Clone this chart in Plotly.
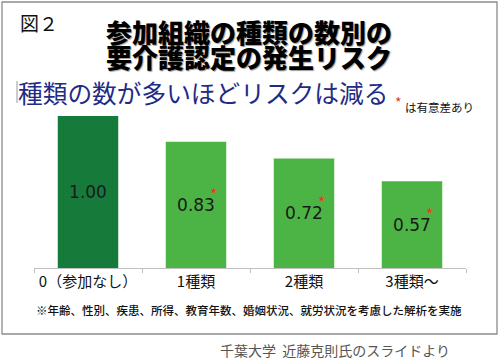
import plotly.graph_objects as go

categories = ["0（参加なし）", "1種類", "2種類", "3種類～"]
values = [1.00, 0.83, 0.72, 0.57]
value_labels = ["1.00", "0.83", "0.72", "0.57"]
significant = [False, True, True, True]

fig_label = "図２"
title_lines = ["参加組織の種類の数別の", "要介護認定の発生リスク"]
subtitle = "種類の数が多いほどリスクは減る"
sig_note = "は有意差あり"
footnote = "※年齢、性別、疾患、所得、教育年数、婚姻状況、就労状況を考慮した解析を実施"
credit = "千葉大学  近藤克則氏のスライドより"

W, H = 500, 361
L, R, T, B = 34, 466, 116, 268
JP = "Noto Sans CJK JP"


def px(x, y):
    return (x - L) / (R - L), (B - y) / (B - T)


colors = ["#157a3a"] + ["#4cb444"] * (len(values) - 1)

fig = go.Figure()
fig.add_trace(go.Bar(
    x=categories, y=values, width=0.56,
    marker=dict(color=colors, line=dict(width=0)),
    text=value_labels, textposition="inside", insidetextanchor="middle",
    textangle=0, constraintext="none",
    textfont=dict(family="DejaVu Sans", size=17, color="#1a1a1a"),
    hoverinfo="skip",
))

annotations = []
for c, v, s in zip(categories, values, significant):
    if s:
        annotations.append(dict(x=c, y=v / 2, xref="x", yref="y", text="*",
                                showarrow=False, xshift=17, yshift=11,
                                font=dict(family=JP, size=16, color="#e0401e")))


def txt(x, y, text, size, color="#111", xanchor="center", weight="normal", family=JP, shadow="none"):
    xp, yp = px(x, y)
    annotations.append(dict(x=xp, y=yp, xref="paper", yref="paper", text=text,
                            showarrow=False, xanchor=xanchor, yanchor="middle",
                            font=dict(family=family, size=size, color=color, weight=weight,
                                      shadow=shadow)))


title_shadow = "1px 1px 1px #9a9a9a"
txt(18, 22, fig_label, 19, "#111", "left")
txt(249, 31, title_lines[0], 26, "#000", weight=900, shadow=title_shadow)
txt(249, 56, title_lines[1], 26, "#000", weight=900, shadow=title_shadow)
txt(16, 92, subtitle, 24.7, "#1f2b85", "left")
txt(398, 102, "*", 14, "#e0401e")
txt(403, 107, sig_note, 11.5, "#111", "left")
txt(248.5, 310, footnote, 11.5, "#111", weight=500)
txt(334.5, 350, credit, 14, "#555")

shapes = []
x0, y0 = px(2, 2)
x1, y1 = px(497, 334)
shapes.append(dict(type="rect", xref="paper", yref="paper", x0=x0, y0=y1, x1=x1, y1=y0,
                   line=dict(color="#8c8c8c", width=1.3), layer="below"))
cx, cy0 = px(17, 81)
_, cy1 = px(17, 103)
shapes.append(dict(type="line", xref="paper", yref="paper", x0=cx, x1=cx, y0=cy0, y1=cy1,
                   line=dict(color="#9a9a9a", width=1)))

fig.update_layout(
    width=W, height=H,
    margin=dict(l=L, r=W - R, t=T, b=H - B, autoexpand=False),
    paper_bgcolor="white", plot_bgcolor="white",
    showlegend=False,
    bargap=0.44,
    annotations=annotations,
    shapes=shapes,
    xaxis=dict(showline=True, linecolor="#bfbfbf", linewidth=1,
               ticks="outside", tickson="boundaries", ticklen=4, tickcolor="#bfbfbf",
               tickfont=dict(family=JP, size=15, color="#111"),
               showgrid=False, zeroline=False, fixedrange=True, automargin=False),
    yaxis=dict(range=[0, 1.0], visible=False, fixedrange=True, automargin=False),
)

fig.write_html("out.html", config={"displayModeBar": False},
               post_script="document.body.style.margin='0';document.body.style.padding='0';")
